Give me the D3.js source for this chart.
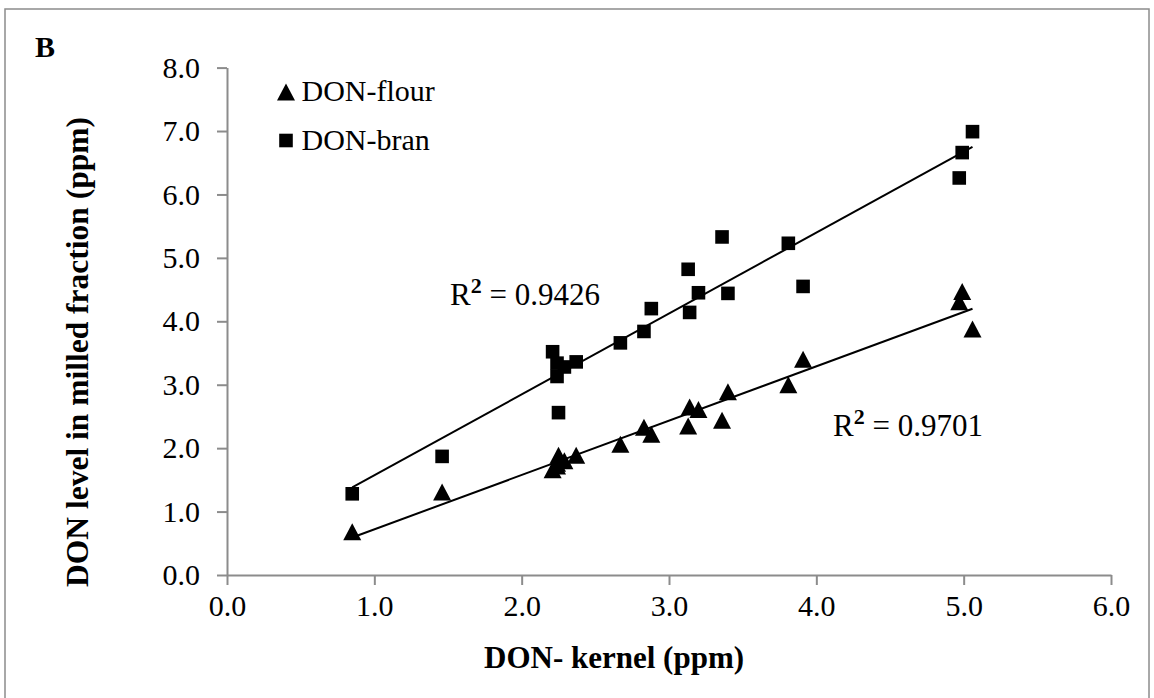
<!DOCTYPE html>
<html>
<head>
<meta charset="utf-8">
<script src="https://cdn.jsdelivr.net/npm/d3@7"></script>
<style>
  body { margin: 0; background: #fff; }
  svg { display: block; font-family: "Liberation Serif", "Times New Roman", serif; }
</style>
</head>
<body>
<div id="chart"></div>
<script>
// kernel DON (ppm), same samples for both fractions
const kernel = [0.85, 1.46, 2.21, 2.24, 2.24, 2.25, 2.29, 2.37, 2.67, 2.83, 2.88,
                3.13, 3.14, 3.20, 3.36, 3.40, 3.81, 3.91, 4.97, 4.99, 5.06];
const bran   = [1.28, 1.87, 3.52, 3.34, 3.13, 2.56, 3.28, 3.36, 3.66, 3.84, 4.20,
                4.82, 4.14, 4.45, 5.33, 4.44, 5.23, 4.55, 6.26, 6.66, 6.99];
const flour  = [0.68, 1.31, 1.66, 1.76, 1.72, 1.89, 1.80, 1.89, 2.06, 2.33, 2.22,
                2.35, 2.65, 2.61, 2.44, 2.89, 3.00, 3.40, 4.31, 4.47, 3.88];

const xTicks = [0, 1, 2, 3, 4, 5, 6];
const yTicks = [0, 1, 2, 3, 4, 5, 6, 7, 8];
const r2Labels = [{series: "bran", text: "0.9426"}, {series: "flour", text: "0.9701"}];

const width = 1154, height = 698;
const margin = ({top: 67.6, right: 43, bottom: 123, left: 227});

const x = d3.scaleLinear([0, 6], [margin.left, width - margin.right]);
const y = d3.scaleLinear([0, 8], [height - margin.bottom, margin.top]);

const svg = d3.select("#chart")
    .append("svg")
    .attr("width", width)
    .attr("height", height);

// outer frame
svg.append("rect")
    .attr("x", 5).attr("y", 9)
    .attr("width", 1144).attr("height", 700)
    .attr("fill", "none")
    .attr("stroke", "#8c8c8c")
    .attr("stroke-width", 1.5);

svg.append("text")
    .attr("x", 35).attr("y", 56.5)
    .attr("font-size", 30).attr("font-weight", "bold")
    .text("B");

const axisStyle = g => {
    g.select(".domain").attr("stroke", "#8c8c8c").attr("stroke-width", 2);
    g.selectAll(".tick line").attr("stroke", "#8c8c8c").attr("stroke-width", 2);
    g.selectAll(".tick text")
        .attr("font-family", "Liberation Serif, Times New Roman, serif")
        .attr("font-size", 30).attr("fill", "#000");
};

svg.append("g")
    .attr("transform", `translate(0,${y(0)})`)
    .call(d3.axisBottom(x).tickValues(xTicks).tickFormat(d3.format(".1f"))
        .tickSize(10).tickSizeOuter(0).tickPadding(10))
    .call(axisStyle);

svg.append("g")
    .attr("transform", `translate(${x(0)},0)`)
    .call(d3.axisLeft(y).tickValues(yTicks).tickFormat(d3.format(".1f"))
        .tickSize(10).tickSizeOuter(0).tickPadding(17))
    .call(axisStyle);

// axis titles
svg.append("text")
    .attr("x", 484).attr("y", 668)
    .attr("font-size", 31).attr("font-weight", "bold")
    .text("DON- kernel (ppm)");

svg.append("text")
    .attr("transform", "translate(88,352) rotate(-90)")
    .attr("text-anchor", "middle")
    .attr("font-size", 31.5).attr("font-weight", "bold")
    .text("DON level in milled fraction (ppm)");

// markers
const tri = (cx, cy) => `M${cx},${cy - 8.5}L${cx + 9},${cy + 8.5}L${cx - 9},${cy + 8.5}Z`;
const sq = (cx, cy) => `M${cx - 6.8},${cy - 6.8}h13.6v13.6h-13.6Z`;

// linear trendlines (least squares over each series)
function fit(xs, ys) {
    const mx = d3.mean(xs), my = d3.mean(ys);
    const b = d3.sum(xs, (v, i) => (v - mx) * (ys[i] - my)) / d3.sum(xs, v => (v - mx) ** 2);
    return {a: my - b * mx, b};
}
const series = [
    {name: "bran", values: bran, shape: sq},
    {name: "flour", values: flour, shape: tri}
];
const [x0, x1] = d3.extent(kernel);

svg.append("g")
    .attr("stroke", "#000")
    .attr("stroke-width", 2)
    .selectAll("line")
    .data(series)
    .join("line")
    .each(function(s) {
        const f = fit(kernel, s.values);
        d3.select(this)
            .attr("x1", x(x0)).attr("y1", y(f.a + f.b * x0))
            .attr("x2", x(x1)).attr("y2", y(f.a + f.b * x1));
    });

series.forEach(s => {
    svg.append("g")
        .selectAll("path")
        .data(kernel.map((k, i) => [k, s.values[i]]))
        .join("path")
        .attr("fill", "#000")
        .attr("d", d => s.shape(x(d[0]), y(d[1])));
});

// legend
const legend = svg.append("g")
    .selectAll("g")
    .data([{label: "DON-flour", shape: tri}, {label: "DON-bran", shape: sq}])
    .join("g")
    .attr("transform", (d, i) => `translate(286,${92 + i * 48.5})`);
legend.append("path").attr("fill", "#000").attr("d", d => d.shape(0, 0));
legend.append("text")
    .attr("x", 15.5).attr("y", 9)
    .attr("font-size", 30)
    .text(d => d.label);

// R² labels
const r2Pos = {bran: [450, 305], flour: [833, 436]};
const r2 = svg.append("g")
    .selectAll("text")
    .data(r2Labels)
    .join("text")
    .attr("x", d => r2Pos[d.series][0])
    .attr("y", d => r2Pos[d.series][1])
    .attr("font-size", 31);
r2.append("tspan").text("R");
r2.append("tspan").attr("dy", -12).attr("font-size", 22).attr("font-weight", "bold").text("2");
r2.append("tspan").attr("dy", 12).text(d => " = " + d.text);
</script>
</body>
</html>
